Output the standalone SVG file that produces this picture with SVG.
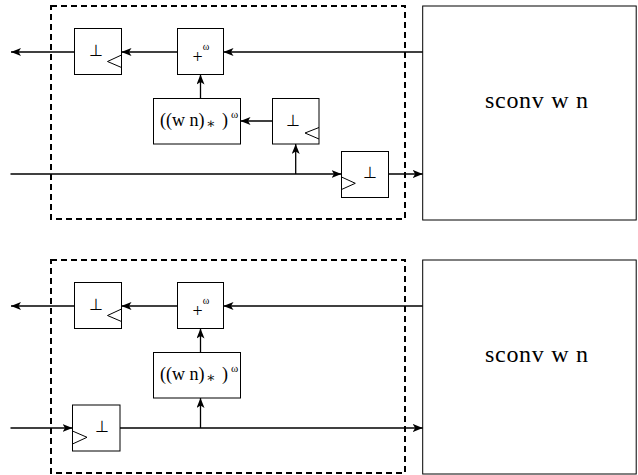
<svg xmlns="http://www.w3.org/2000/svg" width="638" height="475" viewBox="0 0 638 475">
  <style>
    .box { fill: #ffffff; stroke: #000000; stroke-width: 1; }
    .frame { fill: none; stroke: #000000; stroke-width: 2; stroke-dasharray: 6 4; }
    .clk { fill: none; stroke: #000000; stroke-width: 1; }
    .wire { fill: none; stroke: #000000; stroke-width: 1.3; }
    .arr { marker-end: url(#head); }
    text { font-family: "Liberation Serif", "DejaVu Serif", serif; fill: #000000; }
    .bot { font-family: "DejaVu Sans", sans-serif; font-weight: 200; font-size: 16px; text-anchor: middle; }
    .plus { font-size: 18px; text-anchor: middle; }
    .sup { font-size: 10px; text-anchor: middle; }
    .sup2 { font-size: 11px; text-anchor: middle; }
    .expr { font-size: 18px; }
    .star { font-size: 14px; text-anchor: middle; }
    .title { font-size: 24px; text-anchor: middle; }
  </style>
  <defs>
    <marker id="head" markerUnits="userSpaceOnUse" markerWidth="10" markerHeight="8" viewBox="0 0 10 8" refX="10" refY="4" orient="auto">
      <path d="M0,0 L10,4 L0,8 L2.5,4 Z" fill="#000000"/>
    </marker>
  </defs>

  <!-- upper circuit -->
  <g id="frame-top"><rect class="frame" x="51" y="6" width="354" height="213"/></g>
  <g id="sconv-top">
    <rect class="box" x="422.7" y="6" width="213.5" height="214"/>
    <text class="title" x="536.5" y="108" textLength="103" lengthAdjust="spacing">sconv w n</text>
  </g>
  <g id="delay-out-top">
    <rect class="box" x="74.5" y="28.5" width="47" height="46"/>
    <text class="bot" x="95.5" y="56">⊥</text>
    <polyline class="clk" points="121.5,55 107.5,61.5 121.5,67.5"/>
  </g>
  <g id="plus-top">
    <rect class="box" x="177.5" y="28.5" width="46" height="46"/>
    <text class="plus" x="197.5" y="62.5">+</text>
    <text class="sup" x="206" y="49.5">ω</text>
  </g>
  <g id="star-top">
    <rect class="box" x="153.5" y="98.5" width="87" height="45.5"/>
    <text class="expr" x="160" y="126">((w n)</text>
    <text class="star" x="211" y="128">∗</text>
    <text class="expr" x="222" y="126">)</text>
    <text class="sup2" x="234.5" y="118">ω</text>
  </g>
  <g id="delay-mid-top">
    <rect class="box" x="272.5" y="98.5" width="46.5" height="45.5"/>
    <text class="bot" x="293" y="125.5">⊥</text>
    <polyline class="clk" points="319,127.5 305,133 319,139"/>
  </g>
  <g id="delay-in-top">
    <rect class="box" x="341.5" y="151.5" width="47" height="46"/>
    <text class="bot" x="369.7" y="178">⊥</text>
    <polyline class="clk" points="341.5,177 355.3,183.3 341.5,189.5"/>
  </g>

  <!-- lower circuit -->
  <g id="frame-bottom"><rect class="frame" x="51" y="260" width="354" height="213"/></g>
  <g id="sconv-bottom">
    <rect class="box" x="422.7" y="260" width="213.5" height="214"/>
    <text class="title" x="536.5" y="362" textLength="103" lengthAdjust="spacing">sconv w n</text>
  </g>
  <g id="delay-out-bottom">
    <rect class="box" x="74.5" y="282.5" width="47" height="46"/>
    <text class="bot" x="95.5" y="310">⊥</text>
    <polyline class="clk" points="121.5,309 107.5,315.5 121.5,321.5"/>
  </g>
  <g id="plus-bottom">
    <rect class="box" x="177.5" y="282.5" width="46" height="46"/>
    <text class="plus" x="197.5" y="316.5">+</text>
    <text class="sup" x="206" y="303.5">ω</text>
  </g>
  <g id="star-bottom">
    <rect class="box" x="153.5" y="352.5" width="87" height="45.5"/>
    <text class="expr" x="160" y="380">((w n)</text>
    <text class="star" x="211" y="382">∗</text>
    <text class="expr" x="222" y="380">)</text>
    <text class="sup2" x="234.5" y="372">ω</text>
  </g>
  <g id="delay-in-bottom">
    <rect class="box" x="72.5" y="405" width="47.5" height="46"/>
    <text class="bot" x="101.7" y="432">⊥</text>
    <polyline class="clk" points="72.5,431 87,437.3 72.5,444"/>
  </g>

  <g id="connectors">
    <!-- upper -->
    <line class="wire arr" x1="422.7" y1="52" x2="223.5" y2="52"/>
    <line class="wire arr" x1="177.5" y1="52" x2="121.5" y2="52"/>
    <line class="wire arr" x1="74.5" y1="52" x2="11" y2="52"/>
    <line class="wire arr" x1="200.5" y1="98.5" x2="200.5" y2="74.5"/>
    <line class="wire arr" x1="272.5" y1="121" x2="240.5" y2="121"/>
    <line class="wire arr" x1="10.5" y1="174" x2="341.5" y2="174"/>
    <line class="wire arr" x1="295.7" y1="174" x2="295.7" y2="144"/>
    <line class="wire arr" x1="388.5" y1="174" x2="422.7" y2="174"/>
    <!-- lower -->
    <line class="wire arr" x1="422.7" y1="306" x2="223.5" y2="306"/>
    <line class="wire arr" x1="177.5" y1="306" x2="121.5" y2="306"/>
    <line class="wire arr" x1="74.5" y1="306" x2="11" y2="306"/>
    <line class="wire arr" x1="200.5" y1="352.5" x2="200.5" y2="328.5"/>
    <line class="wire arr" x1="10.5" y1="428" x2="72.5" y2="428"/>
    <line class="wire arr" x1="120" y1="428" x2="422.7" y2="428"/>
    <line class="wire arr" x1="200.5" y1="428" x2="200.5" y2="398"/>
  </g>
</svg>
